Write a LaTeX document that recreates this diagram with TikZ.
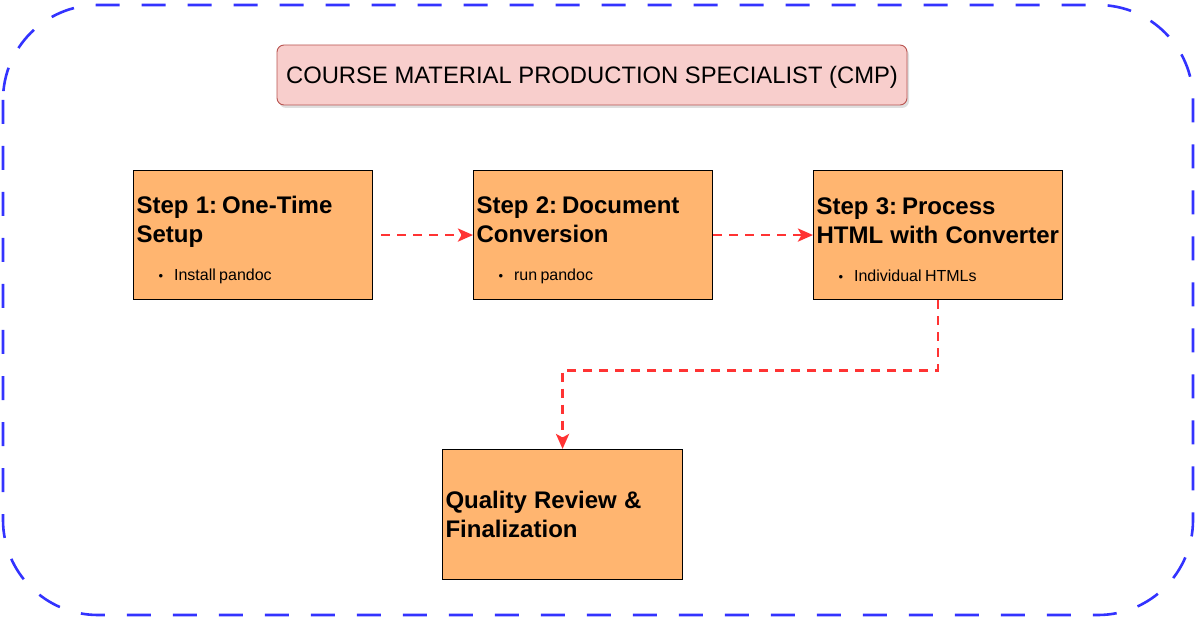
\documentclass[tikz,border=0pt]{standalone}
\usepackage{fontspec}
\setmainfont{Liberation Sans}
\usepackage{tikz}
\usetikzlibrary{positioning, arrows.meta, shadows}

\definecolor{framecol}{HTML}{3333FF}
\definecolor{titlefill}{HTML}{F8CECC}
\definecolor{titleline}{HTML}{B85450}
\definecolor{stepfill}{HTML}{FFB570}
\definecolor{flowcol}{HTML}{FF3333}

\newcommand{\stephead}[2][17pt]{{\bfseries\fontsize{24}{29}\selectfont\spaceskip=0.3em\rule{0pt}{#1}#2\par}}
\newcommand{\stepitem}[1]{{\fontsize{16}{19}\selectfont\vspace{19pt}\hspace{22pt}{\fontsize{13}{15}\selectfont\textbullet}\hspace{11pt}#1\par}}

\begin{document}
\begin{tikzpicture}[x=1pt, y=-1pt,
        frame/.style={draw=framecol, line width=2.6pt, dash pattern=on 24pt off 22pt, rounded corners=95pt},
        titlebox/.style={draw=titleline, fill=titlefill, line width=0.9pt, rounded corners=7pt,
            minimum width=630pt, minimum height=60pt, inner sep=0pt,
            drop shadow={shadow xshift=2pt, shadow yshift=-3pt, opacity=0.25},
            font=\fontsize{23.8}{28}\selectfont},
        stepbox/.style={draw=black, fill=stepfill, line width=1.1pt, minimum height=129pt,
            inner sep=3pt, align=left, anchor=north west},
        flow/.style={draw=flowcol, line width=2.8pt, dash pattern=on 9pt off 7pt,
            -{Stealth[length=15pt, width=13pt, inset=3.5pt]}}]
        \useasboundingbox (0,0) rectangle (1197,620);
        % outer frame
        \draw [frame] (3,5) rectangle (1193,615);
        % title
        \node [titlebox] (cmp) at (592,75) {\raisebox{-2pt}[\height][\depth]{COURSE MATERIAL PRODUCTION SPECIALIST (CMP)}};
        % steps
        \node [stepbox, text width=233pt] (setup) at (133,170)
            {\stephead[26.5pt]{Step 1: One-Time\\Setup}\stepitem{Install pandoc}};
        \node [stepbox, text width=233pt] (conv) at (473,170)
            {\stephead[26.5pt]{Step 2: Document\\Conversion}\stepitem{run pandoc}};
        \node [stepbox, text width=243pt] (proc) at (813,170)
            {\stephead[26.5pt]{Step 3: Process\\HTML with Converter}\stepitem{Individual HTMLs}};
        \node [stepbox, text width=234pt, minimum height=130pt] (review) at (442,449)
            {\stephead{Quality Review \&\\Finalization}};
        % connectors
        \draw [flow, shorten <=8pt] (setup) -- (conv);
        \draw [flow] (conv) -- (proc);
        \draw [flow] (proc.south) -- ++(0,70) -| (review.north);
\end{tikzpicture}
\end{document}
